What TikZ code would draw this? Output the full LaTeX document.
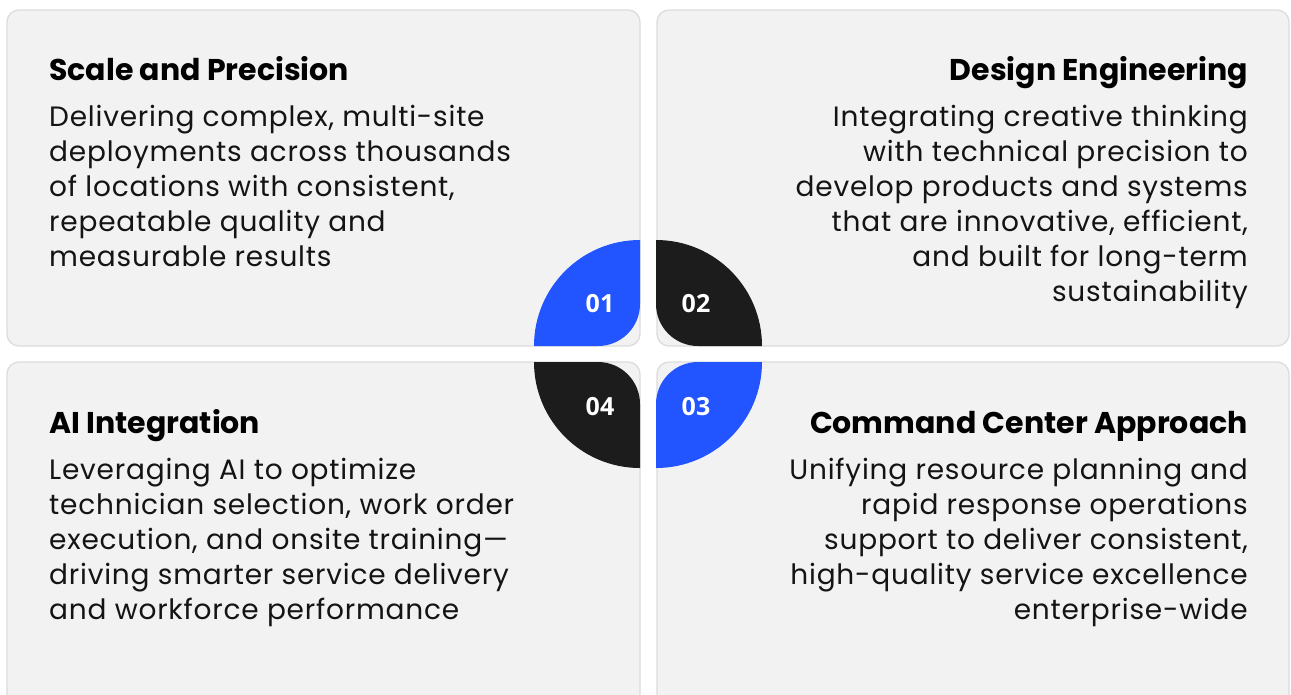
\documentclass[tikz,border=0pt]{standalone}
\usepackage{fontspec}
\setmainfont{Poppins}
\newfontfamily\bodyfont{Poppins}[LetterSpace=2.8]
\newfontfamily\numfont{Open Sans}
\definecolor{panelfill}{HTML}{F2F2F2}
\definecolor{paneledge}{HTML}{DCDCDC}
\definecolor{petalblue}{HTML}{2255FF}
\definecolor{petaldark}{HTML}{1C1C1C}
\definecolor{bodytext}{HTML}{141414}
\tikzset{
  panel/.style={fill=panelfill, draw=paneledge, line width=1.3pt, rounded corners=12pt},
  ttl/.style={font=\fontsize{30}{35}\selectfont\bfseries, text=black, inner sep=0pt},
  bodyl/.style={font=\bodyfont\fontsize{28}{35}\selectfont, text=bodytext, inner sep=0pt, anchor=base west},
  bodyr/.style={font=\bodyfont\fontsize{28}{35}\selectfont, text=bodytext, inner sep=0pt, anchor=base east},
  num/.style={font=\numfont\fontsize{25}{25}\selectfont\bfseries, text=white, inner sep=0pt}
}
\begin{document}
\begin{tikzpicture}[x=1pt,y=-1pt]
\useasboundingbox (0,0) rectangle (1291,694);
\fill[white] (0,0) rectangle (1291,694);
% panels
\draw[panel] (7,10) rectangle (640,346);
\draw[panel] (657,10) rectangle (1289,346);
\draw[panel] (7,362) rectangle (640,720);
\draw[panel] (657,362) rectangle (1289,720);
% petals
\fill[petalblue] (534,346) arc[start angle=180, end angle=270, radius=106]
  -- (640,304) arc[start angle=0, end angle=90, radius=42] -- cycle;
\fill[petaldark] (656,240) arc[start angle=270, end angle=360, radius=106]
  -- (698,346) arc[start angle=90, end angle=180, radius=42] -- cycle;
\fill[petalblue] (762,362) arc[start angle=0, end angle=90, radius=106]
  -- (656,404) arc[start angle=180, end angle=270, radius=42] -- cycle;
\fill[petaldark] (640,468) arc[start angle=90, end angle=180, radius=106]
  -- (598,362) arc[start angle=270, end angle=360, radius=42] -- cycle;
% numbers
\node[num] (n1) at (600,304) {01};
\node[num] (n2) at (696,304) {02};
\node[num] (n3) at (696,407) {03};
\node[num] (n4) at (600,407) {04};
% titles
\node[ttl, anchor=base west] (t1) at (49,80) {Scale and Precision};
\node[ttl, anchor=base east] (t2) at (1248,80) {Design Engineering};
\node[ttl, anchor=base west] (t4) at (49,433) {AI Integration};
\node[ttl, anchor=base east] (t3) at (1248,433) {Command Center Approach};
% bodies
\foreach \txt [count=\i] in {Delivering complex{,} multi-site, deployments across thousands, of locations with consistent{,}, repeatable quality and, measurable results}
  \node[bodyl] (b1-\i) at (49,{91+35*\i}) {\txt};
\foreach \txt [count=\i] in {Integrating creative thinking, with technical precision to, develop products and systems, that are innovative{,} efficient{,}, and built for long-term, sustainability}
  \node[bodyr] (b2-\i) at (1248,{91+35*\i}) {\txt};
\foreach \txt [count=\i] in {Leveraging AI to optimize, technician selection{,} work order, execution{,} and onsite training—, driving smarter service delivery, and workforce performance}
  \node[bodyl] (b4-\i) at (49,{444+35*\i}) {\txt};
\foreach \txt [count=\i] in {Unifying resource planning and, rapid response operations, support to deliver consistent{,}, high-quality service excellence, enterprise-wide}
  \node[bodyr] (b3-\i) at (1248,{444+35*\i}) {\txt};
\end{tikzpicture}
\end{document}
